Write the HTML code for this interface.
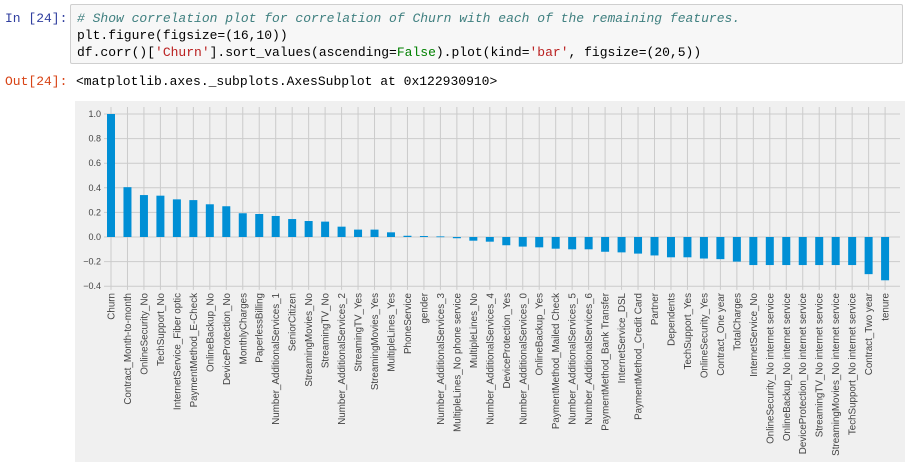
<!DOCTYPE html>
<html><head><meta charset="utf-8"><style>
body{margin:0;width:909px;height:467px;background:#fff;position:relative;overflow:hidden;font-family:"Liberation Sans",sans-serif}
.mono{font-family:"Liberation Mono",monospace;font-size:13px;line-height:17px;white-space:pre}
#in{position:absolute;left:5px;top:10px;color:#303F9F}
#cell{position:absolute;left:70px;top:4px;width:833px;height:60px;background:#f7f7f7;border:1px solid #cfcfcf;border-radius:2px;box-sizing:border-box;padding:5px 6px}
#out{position:absolute;left:5px;top:73px;color:#D84315}
#outtxt{position:absolute;left:76px;top:73px;color:#000}
svg{position:absolute;left:0;top:0}
</style></head><body>
<div id="in" class="mono">In [24]:</div>
<div id="cell" class="mono"><span style="color:#408080;font-style:italic"># Show correlation plot for correlation of Churn with each of the remaining features.</span>
plt.figure(figsize=(16,10))
df.corr()[<span style="color:#BA2121">'Churn'</span>].sort_values(ascending=<span style="color:#008000">False</span>).plot(kind=<span style="color:#BA2121">'bar'</span>, figsize=(20,5))</div>
<div id="out" class="mono">Out[24]:</div>
<div id="outtxt" class="mono">&lt;matplotlib.axes._subplots.AxesSubplot at 0x122930910&gt;</div>
<svg id="chart" width="909" height="467"></svg>
<script>
const categories=["Churn","Contract_Month-to-month","OnlineSecurity_No","TechSupport_No","InternetService_Fiber optic","PaymentMethod_E-Check","OnlineBackup_No","DeviceProtection_No","MonthlyCharges","PaperlessBilling","Number_AdditionalServices_1","SeniorCitizen","StreamingMovies_No","StreamingTV_No","Number_AdditionalServices_2","StreamingTV_Yes","StreamingMovies_Yes","MultipleLines_Yes","PhoneService","gender","Number_AdditionalServices_3","MultipleLines_No phone service","MultipleLines_No","Number_AdditionalServices_4","DeviceProtection_Yes","Number_AdditionalServices_0","OnlineBackup_Yes","PaymentMethod_Mailed Check","Number_AdditionalServices_5","Number_AdditionalServices_6","PaymentMethod_Bank Transfer","InternetService_DSL","PaymentMethod_Credit Card","Partner","Dependents","TechSupport_Yes","OnlineSecurity_Yes","Contract_One year","TotalCharges","InternetService_No","OnlineSecurity_No internet service","OnlineBackup_No internet service","DeviceProtection_No internet service","StreamingTV_No internet service","StreamingMovies_No internet service","TechSupport_No internet service","Contract_Two year","tenure"];
const values=[1.0,0.405,0.341,0.336,0.306,0.30,0.266,0.25,0.193,0.187,0.171,0.146,0.13,0.125,0.084,0.06,0.06,0.038,0.01,0.008,0.005,-0.01,-0.03,-0.038,-0.067,-0.078,-0.084,-0.095,-0.1,-0.1,-0.12,-0.125,-0.135,-0.15,-0.165,-0.165,-0.175,-0.18,-0.2,-0.228,-0.228,-0.228,-0.228,-0.228,-0.228,-0.228,-0.302,-0.352];
const yTicks=[1.0,0.8,0.6,0.4,0.2,0.0,-0.2,-0.4];
const yTickLabels=["1.0","0.8","0.6","0.4","0.2","0.0","\u22120.2","\u22120.4"];
const NS="http://www.w3.org/2000/svg";
const svg=document.getElementById('chart');
function yS(v){return 237-v*123;}
function xS(i){return 111+i*16.47;}
function mk(t,a){const e=document.createElementNS(NS,t);for(const k in a)e.setAttribute(k,a[k]);svg.appendChild(e);return e;}
const bg=mk('rect',{x:75,y:101,width:830,height:361,fill:'#f0f0f0'});


const plotTop=yS(1.057),plotBot=yS(-0.43);
categories.forEach((c,i)=>{
  const g=mk('line',{x1:xS(i),x2:xS(i),y1:plotTop,y2:plotBot,stroke:'#cbcbcb','stroke-width':1});
  
  
});
yTicks.forEach((v,i)=>{
  const g=mk('line',{x1:104,x2:900,y1:yS(v),y2:yS(v),stroke:'#cbcbcb','stroke-width':1});
  
  
  const t=mk('text',{x:101,y:yS(v)+3,'text-anchor':'end','font-size':9,fill:'#444'});
  t.textContent=yTickLabels[i];
  
  
});
values.forEach((v,i)=>{
  const y0=yS(0),y1=yS(v);
  const b=mk('rect',{x:xS(i)-4,y:Math.min(y0,y1),width:8,height:Math.max(Math.abs(y1-y0),0.8),fill:'#008fd5'});
  
  
  const t=mk('text',{x:0,y:0,'text-anchor':'end','font-size':9.8,fill:'#444',transform:`translate(${xS(i)+3.5},293) rotate(-90)`});
  t.textContent=categories[i];
  
  
});
</script>
</body></html>
